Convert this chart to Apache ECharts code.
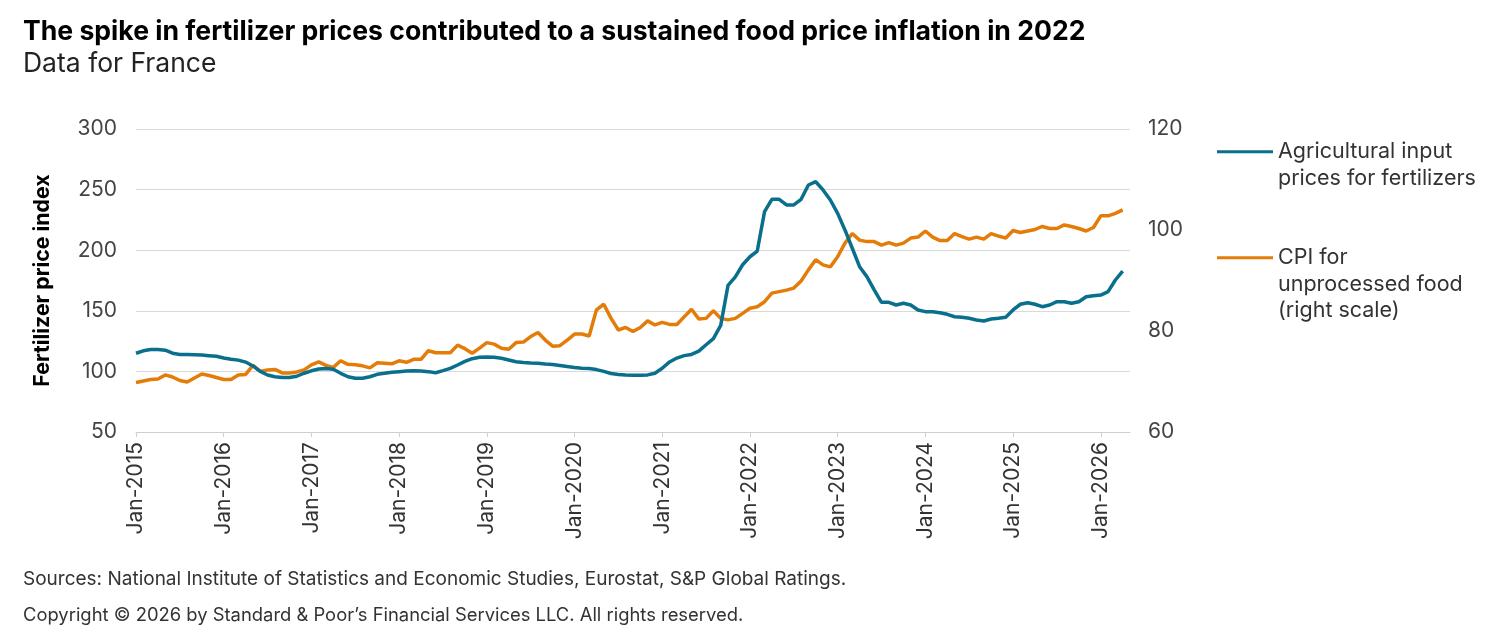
<!DOCTYPE html>
<html>
<head>
<meta charset="utf-8">
<script src="https://cdn.jsdelivr.net/npm/echarts@6/dist/echarts.min.js"></script>
<style>
  html, body { margin: 0; padding: 0; background: #fff; }
  #main { width: 1500px; height: 629px; }
</style>
</head>
<body>
<div id="main"></div>
<script>
// months Jan-2015 .. May-2026 (last slot is empty, axis runs a bit past the data)
var years = [2015, 2016, 2017, 2018, 2019, 2020, 2021, 2022, 2023, 2024, 2025, 2026];
var monthNames = ['Jan', 'Feb', 'Mar', 'Apr', 'May', 'Jun', 'Jul', 'Aug', 'Sep', 'Oct', 'Nov', 'Dec'];
var monthCount = 137;

// Agricultural input prices for fertilizers (left scale)
var fertilizer = [
  115, 117, 118, 118, 117.5, 115, 114, 114, 113.8, 113.5, 113, 112.5,
  111, 110, 109.3, 107.7, 104.5, 100, 97, 95.6, 95, 95, 96, 98.5,
  100.5, 102, 102.3, 101.7, 98.4, 95.6, 94.3, 94.3, 95.6, 97.6, 98.4, 99.3,
  99.8, 100.3, 100.6, 100.3, 99.8, 98.9, 100.6, 102.5, 105.3, 108.3, 110.5, 111.6,
  111.9, 111.6, 110.8, 109.4, 108, 107.3, 107, 106.8, 106.2, 105.7, 104.9, 104,
  103.2, 102.6, 102.4, 101.5, 100, 98.3, 97.5, 97.1, 96.9, 96.9, 97.1, 98.5,
  102.6, 107.8, 111, 113, 114, 116.7, 122, 127, 138, 171, 178, 188,
  194.6, 199.3, 231.8, 242, 242, 237.3, 237.3, 242, 253.8, 256.5, 249.7, 241.4,
  230.4, 216.7, 201.6, 186.4, 178.2, 167.2, 157, 157, 154.8, 156.2, 154.8, 150.7,
  149.3, 149.3, 148.4, 147.1, 145.1, 144.6, 143.8, 142.4, 141.6, 143.2, 143.8, 144.6,
  150.7, 155.4, 156.7, 155.4, 153.4, 154.8, 157.5, 157.5, 156.2, 157.5, 161.6, 162.5,
  163, 165.8, 175.4, 182.8
];

// CPI for unprocessed food (right scale)
var cpi = [
  69.8, 70.1, 70.4, 70.5, 71.3, 70.9, 70.2, 69.9, 70.7, 71.5, 71.2, 70.8,
  70.4, 70.4, 71.3, 71.4, 73.2, 72, 72.3, 72.4, 71.7, 71.7, 71.9, 72.3,
  73.3, 73.9, 73.2, 72.8, 74.1, 73.4, 73.3, 73.1, 72.7, 73.7, 73.6, 73.5,
  74.1, 73.8, 74.4, 74.4, 76.1, 75.7, 75.7, 75.7, 77.2, 76.5, 75.6, 76.6,
  77.7, 77.4, 76.6, 76.4, 77.7, 77.8, 78.9, 79.7, 78.2, 77, 77.1, 78.2,
  79.4, 79.4, 79, 84.2, 85.3, 82.5, 80.2, 80.7, 79.9, 80.7, 82, 81.2,
  81.7, 81.3, 81.3, 82.8, 84.3, 82.4, 82.5, 84, 82.5, 82.2, 82.5, 83.5,
  84.5, 84.8, 85.8, 87.5, 87.8, 88.1, 88.5, 89.9, 92.1, 94.1, 93.1, 92.7,
  94.7, 97.4, 99.3, 98, 97.7, 97.7, 97, 97.5, 97, 97.4, 98.4, 98.6,
  99.8, 98.6, 97.9, 97.9, 99.3, 98.7, 98.2, 98.6, 98.2, 99.3, 98.8, 98.4,
  99.9, 99.5, 99.8, 100.1, 100.7, 100.3, 100.3, 101, 100.7, 100.3, 99.8, 100.5,
  102.8, 102.8, 103.3, 104
];

var nameFert = 'Agricultural input\nprices for fertilizers';
var nameCpi = 'CPI for\nunprocessed food\n(right scale)';

var months = [];
for (var i = 0; i < monthCount; i++) {
  months.push(monthNames[i % 12] + '-' + years[Math.floor(i / 12)]);
}

var blue = '#0a6f8c';
var orange = '#e37c08';
var font = 'Inter';

var chart = echarts.init(document.getElementById('main'), null, { renderer: 'canvas' });

chart.setOption({
  animation: false,
  textStyle: { fontFamily: font },
  title: [
    {
      text: 'The spike in fertilizer prices contributed to a sustained food price inflation in 2022',
      left: 18, top: 13,
      textStyle: { fontFamily: font, fontSize: 26.6, fontWeight: 'bold', color: '#000' }
    },
    {
      text: 'Data for France',
      left: 18, top: 46,
      textStyle: { fontFamily: font, fontSize: 26.5, fontWeight: 'normal', color: '#222' }
    },
    {
      text: 'Sources: National Institute of Statistics and Economic Studies, Eurostat, S&P Global Ratings.',
      left: 18, top: 565,
      textStyle: { fontFamily: font, fontSize: 19, fontWeight: 'normal', color: '#333' }
    },
    {
      text: 'Copyright \u00a9 2026 by Standard & Poor\u2019s Financial Services LLC. All rights reserved.',
      left: 18, top: 601,
      textStyle: { fontFamily: font, fontSize: 18.4, fontWeight: 'normal', color: '#333' }
    }
  ],
  legend: {
    orient: 'vertical',
    left: 1217,
    top: 112,
    padding: 0,
    itemGap: 0,
    itemWidth: 56,
    itemHeight: 3,
    icon: 'rect',
    selectedMode: false,
    textStyle: { fontFamily: font, fontSize: 21.5, color: '#333', lineHeight: 26.5 },
    // leading blank lines keep the icon level with the first text line
    formatter: function (name) {
      return name === nameFert ? '\n' + name : '\n\n' + name;
    },
    data: [nameFert, nameCpi]
  },
  grid: {
    left: 136,
    right: 370,
    top: 129,
    bottom: 197,
    containLabel: false
  },
  xAxis: {
    type: 'category',
    data: months,
    boundaryGap: false,
    axisLine: { lineStyle: { color: '#d0d0d0', width: 1 } },
    axisTick: { interval: 11, length: 5, lineStyle: { color: '#d0d0d0' } },
    axisLabel: {
      interval: 11,
      rotate: 90,
      margin: 10,
      fontFamily: font,
      fontSize: 21,
      color: '#333'
    },
    splitLine: { show: false }
  },
  yAxis: [
    {
      type: 'value',
      min: 50,
      max: 300,
      interval: 50,
      name: 'Fertilizer price index',
      nameLocation: 'middle',
      nameGap: 83,
      nameTextStyle: { fontFamily: font, fontSize: 21.3, fontWeight: 'bold', color: '#000' },
      axisLine: { show: false },
      axisTick: { show: false },
      axisLabel: { margin: 19, fontFamily: font, fontSize: 21, color: '#444' },
      splitLine: { lineStyle: { color: '#d9d9d9', width: 1 } }
    },
    {
      type: 'value',
      min: 60,
      max: 120,
      interval: 20,
      position: 'right',
      axisLine: { show: false },
      axisTick: { show: false },
      axisLabel: { margin: 18, fontFamily: font, fontSize: 21, color: '#444' },
      splitLine: { show: false }
    }
  ],
  series: [
    {
      name: nameFert,
      type: 'line',
      yAxisIndex: 0,
      data: fertilizer,
      showSymbol: false,
      symbol: 'none',
      lineStyle: { color: blue, width: 3.5 },
      itemStyle: { color: blue },
      z: 3
    },
    {
      name: nameCpi,
      type: 'line',
      yAxisIndex: 1,
      data: cpi,
      showSymbol: false,
      symbol: 'none',
      lineStyle: { color: orange, width: 3.5 },
      itemStyle: { color: orange },
      z: 2
    }
  ]
});
</script>
</body>
</html>
